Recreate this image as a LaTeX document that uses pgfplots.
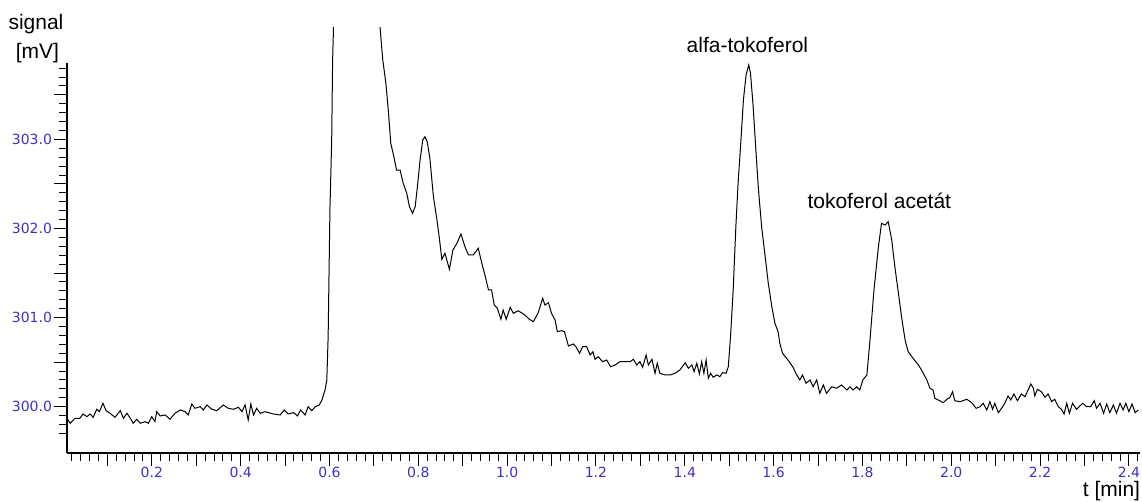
\documentclass[border=0pt]{standalone}
\usepackage{pgfplots}
\pgfplotsset{compat=1.18}
\usepackage{fontspec}
\setmainfont{Liberation Sans}
\newfontfamily\tickfont{DejaVu Sans}
\definecolor{tickblue}{RGB}{60,50,200}

\begin{document}
\begin{tikzpicture}
\begin{axis}[
  scale only axis,
  width=536.5pt, height=212.5pt,
  xmin=0.009, xmax=2.425,
  ymin=299.48, ymax=304.25,
  axis x line*=bottom, axis y line*=left,
  axis line style={-, line width=0.6pt},
  y axis line style={draw=none},
  tick align=outside,
  major tick length=6.5pt, minor tick length=4pt,
  every tick/.style={black, line width=0.5pt},
  xtick={0.2,0.4,...,2.4},
  minor xtick={0.02,0.04,...,2.42},
  extra x ticks={0.1,0.3,...,2.3},
  extra x tick labels={},
  ytick={300,301,302,303},
  minor ytick={299.7,299.8,299.9,300.1,300.2,300.3,300.4,300.6,300.7,300.8,300.9,
    301.1,301.2,301.3,301.4,301.6,301.7,301.8,301.9,
    302.1,302.2,302.3,302.4,302.6,302.7,302.8,302.9,
    303.1,303.2,303.3,303.4,303.6,303.7,303.8},
  extra y ticks={300.5,301.5,302.5,303.5},
  extra y tick labels={},
  ticklabel style={font=\fontsize{7}{8}\selectfont\tickfont, text=tickblue,
    /pgf/number format/fixed, /pgf/number format/fixed zerofill,
    /pgf/number format/precision=1},
  xticklabel style={inner sep=0.5pt, yshift=0.3pt},
  yticklabel style={xshift=2.5pt},
  /pgf/number format/assume math mode=true,
  clip mode=individual,
]
\addplot[black, line width=0.5pt, mark=none] coordinates {
(0.009,299.870) (0.016,299.814) (0.027,299.870) (0.038,299.870) (0.045,299.918)
(0.054,299.888) (0.061,299.918) (0.068,299.881) (0.076,299.971) (0.082,299.944)
(0.090,300.038) (0.097,299.955) (0.106,299.926) (0.117,299.881) (0.129,299.955)
(0.136,299.870) (0.144,299.926) (0.153,299.859) (0.158,299.814) (0.166,299.859)
(0.174,299.814) (0.185,299.832) (0.192,299.814) (0.200,299.888) (0.207,299.832)
(0.211,299.944) (0.219,299.896) (0.230,299.907) (0.241,299.859) (0.252,299.926)
(0.264,299.963) (0.275,299.944) (0.282,299.907) (0.290,300.030) (0.297,299.982)
(0.309,300.000) (0.316,299.963) (0.324,300.019) (0.335,299.971) (0.346,299.955)
(0.361,300.019) (0.372,299.982) (0.384,299.971) (0.395,299.993) (0.403,299.944)
(0.410,300.019) (0.417,299.851) (0.423,300.030) (0.429,299.907) (0.436,299.982)
(0.444,299.926) (0.455,299.944) (0.474,299.918) (0.489,299.907) (0.498,299.963)
(0.507,299.918) (0.519,299.933) (0.528,299.896) (0.535,299.963) (0.545,299.907)
(0.552,300.000) (0.560,299.955) (0.568,300.000) (0.577,300.019) (0.583,300.075)
(0.590,300.187) (0.594,300.300) (0.597,300.786) (0.601,302.208) (0.605,302.993)
(0.607,303.872) (0.609,304.247) (0.612,306.000) (0.711,306.000) (0.714,304.247)
(0.720,303.891) (0.727,303.630) (0.733,303.293) (0.738,302.956) (0.745,302.806)
(0.751,302.656) (0.759,302.656) (0.766,302.507) (0.774,302.395) (0.780,302.245)
(0.787,302.171) (0.793,302.245) (0.798,302.469) (0.804,302.769) (0.810,302.993)
(0.815,303.030) (0.820,302.974) (0.826,302.791) (0.834,302.357) (0.842,302.095)
(0.847,301.908) (0.853,301.654) (0.860,301.722) (0.870,301.542) (0.878,301.759)
(0.887,301.834) (0.896,301.938) (0.905,301.796) (0.913,301.703) (0.924,301.703)
(0.935,301.778) (0.943,301.609) (0.950,301.478) (0.958,301.310) (0.965,301.310)
(0.971,301.141) (0.978,301.104) (0.986,300.981) (0.991,301.085) (0.998,300.981)
(1.007,301.116) (1.014,301.048) (1.025,301.077) (1.040,301.029) (1.050,300.981)
(1.059,300.954) (1.070,301.055) (1.080,301.217) (1.085,301.141) (1.093,301.167)
(1.100,301.048) (1.108,300.973) (1.113,300.842) (1.123,300.853) (1.129,300.842)
(1.138,300.681) (1.149,300.704) (1.155,300.673) (1.163,300.599) (1.170,300.673)
(1.179,300.673) (1.187,300.580) (1.193,300.617) (1.198,300.532) (1.205,300.561)
(1.215,300.505) (1.224,300.524) (1.233,300.449) (1.243,300.468) (1.254,300.505)
(1.265,300.505) (1.277,300.505) (1.284,300.532) (1.292,300.468) (1.299,300.505)
(1.305,300.442) (1.313,300.580) (1.318,300.468) (1.326,300.532) (1.333,300.375)
(1.338,300.487) (1.344,300.375) (1.355,300.356) (1.367,300.356) (1.378,300.375)
(1.389,300.412) (1.401,300.494) (1.408,300.431) (1.416,300.468) (1.421,300.393)
(1.427,300.487) (1.433,300.367) (1.438,300.505) (1.443,300.375) (1.448,300.524)
(1.453,300.319) (1.458,300.375) (1.464,300.330) (1.472,300.356) (1.479,300.337)
(1.485,300.382) (1.493,300.375) (1.498,300.449) (1.503,300.786) (1.509,301.310)
(1.515,302.020) (1.520,302.507) (1.526,302.956) (1.532,303.442) (1.538,303.723)
(1.544,303.835) (1.548,303.742) (1.554,303.367) (1.560,302.881) (1.566,302.432)
(1.573,302.020) (1.581,301.683) (1.588,301.385) (1.596,301.122) (1.603,300.936)
(1.610,300.842) (1.614,300.712) (1.620,300.599) (1.631,300.532) (1.643,300.449)
(1.652,300.356) (1.659,300.300) (1.665,300.356) (1.673,300.263) (1.682,300.300)
(1.689,300.224) (1.697,300.300) (1.704,300.150) (1.712,300.244) (1.719,300.150)
(1.731,300.224) (1.742,300.207) (1.753,300.244) (1.765,300.187) (1.772,300.224)
(1.779,300.187) (1.787,300.224) (1.794,300.187) (1.801,300.300) (1.810,300.356)
(1.817,300.749) (1.826,301.310) (1.836,301.796) (1.843,302.058) (1.851,302.039)
(1.858,302.076) (1.866,301.871) (1.873,301.571) (1.881,301.273) (1.888,301.010)
(1.896,300.749) (1.903,300.617) (1.914,300.543) (1.926,300.468) (1.933,300.412)
(1.945,300.300) (1.952,300.207) (1.959,300.187) (1.963,300.094) (1.971,300.075)
(1.982,300.045) (1.990,300.083) (1.997,300.105) (2.003,300.168) (2.008,300.067)
(2.020,300.056) (2.035,300.083) (2.046,300.045) (2.056,299.982) (2.065,300.000)
(2.072,300.038) (2.080,299.963) (2.087,300.056) (2.093,299.971) (2.098,300.038)
(2.106,299.933) (2.116,300.000) (2.121,300.045) (2.128,300.120) (2.134,300.075)
(2.141,300.143) (2.149,300.067) (2.158,300.143) (2.166,300.112) (2.173,300.187)
(2.179,300.255) (2.185,300.207) (2.188,300.120) (2.194,300.195) (2.203,300.168)
(2.211,300.105) (2.218,300.143) (2.226,300.056) (2.233,300.083) (2.241,300.000)
(2.248,299.971) (2.254,299.918) (2.260,300.038) (2.266,299.926) (2.273,300.038)
(2.282,299.971) (2.296,300.038) (2.305,300.000) (2.314,300.000) (2.322,300.067)
(2.327,299.982) (2.335,300.038) (2.343,299.926) (2.350,300.030) (2.357,299.933)
(2.365,300.019) (2.372,299.926) (2.380,300.038) (2.387,299.963) (2.393,300.038)
(2.400,299.944) (2.407,300.030) (2.414,299.933) (2.421,299.963)
};
% y axis line stops below the plot top, as in the reference
\draw[line width=0.6pt] (rel axis cs:0,0) -- (rel axis cs:0,0.9176);
\node[anchor=base, font=\fontsize{10.5}{12}\selectfont] at (axis cs:1.541,303.98) {alfa-tokoferol};
\node[anchor=base, font=\fontsize{10.5}{12}\selectfont] at (axis cs:1.838,302.22) {tokoferol acetát};
\node[anchor=base, inner sep=0pt, font=\fontsize{10.5}{12}\selectfont] at (rel axis cs:-0.0289,0.9976) {signal};
\node[anchor=base, inner sep=0pt, font=\fontsize{10.5}{12}\selectfont] at (rel axis cs:-0.0275,0.9271) {[mV]};
\node[anchor=base, inner sep=0pt, font=\fontsize{10.5}{12}\selectfont] at (rel axis cs:0.9734,-0.1012) {t [min]};
\coordinate (bbl) at (rel axis cs:-0.06244,-0.11294);
\coordinate (btr) at (rel axis cs:1.00186,1.06588);
\end{axis}
\pgfresetboundingbox
\path[use as bounding box] (bbl) rectangle (btr);
\end{tikzpicture}
\end{document}
